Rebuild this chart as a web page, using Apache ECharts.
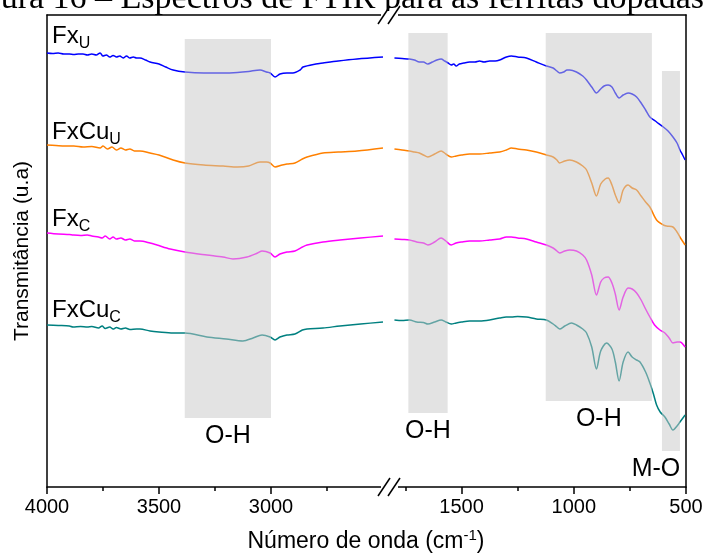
<!DOCTYPE html>
<html><head><meta charset="utf-8">
<script src="https://cdn.jsdelivr.net/npm/echarts@6/dist/echarts.min.js"></script>
<style>html,body{margin:0;padding:0;background:#fff}#c{width:705px;height:554px}</style>
</head><body><div id="c"></div>
<script>
// ---- data (wavenumber cm-1, transmittance a.u.) ----
const seriesNames = ['FxU', 'FxCuU', 'FxC', 'FxCuC'];
const seriesColors = ['#0000FF', '#FF8000', '#FF00FF', '#008080'];

const fxU_high = [[4000,434],[3975,433.5],[3950,434],[3925,433],[3900,433],[3880,432.5],[3860,433],[3839,433],[3820,432],[3800,433],[3780,432],[3763,434],[3750,431],[3735,432],[3720,430],[3705,431.5],[3690,430],[3675,431],[3660,429],[3645,431],[3630,429],[3615,430],[3600,429],[3585,429],[3560,427],[3540,425],[3500,423],[3470,420],[3437,417],[3384,415],[3300,414],[3214,414],[3150,414.5],[3100,415.5],[3049,417],[3020,415],[3004,414],[2982,410],[2960,413],[2929,414],[2902,414],[2870,417],[2857,420],[2800,423],[2768,424],[2700,426],[2616,428],[2500,430]];
const fxU_low = [[1799,429],[1765,428.5],[1732,428],[1710,427],[1688,425],[1670,425],[1650,423],[1630,425],[1610,427],[1591,428],[1575,426],[1560,424],[1546,422],[1535,423],[1524,421],[1510,423],[1490,424],[1464,425],[1440,425],[1420,426],[1400,425],[1375,426],[1350,426],[1330,427],[1300,430],[1278,431],[1250,430],[1211,429],[1167,425],[1122,421],[1092,419],[1075,416],[1063,414],[1045,415],[1030,417],[1018,417],[988,415],[960,411],[943,407],[920,400],[899,394],[880,398],[865,401],[847,402],[830,400],[815,394],[798,389],[780,392],[758,394],[740,393],[720,390],[700,384],[680,377],[661,370],[631,365],[601,360],[580,356],[558,350],[540,344],[527,337],[515,332],[504,327]];

const fxCuU_high = [[4000,342],[3960,341.5],[3920,341],[3880,341],[3839,340],[3800,340.5],[3763,339],[3750,341],[3730,338],[3710,340],[3690,337],[3670,339],[3650,337],[3630,338],[3610,336],[3585,336],[3540,334],[3500,332],[3437,327],[3384,324],[3300,322],[3214,321],[3150,320],[3100,321],[3049,325],[3020,325],[3004,324],[2982,320],[2950,322],[2929,323],[2893,324],[2860,328],[2839,330],[2768,334],[2700,335],[2616,336],[2500,339]];
const fxCuU_low = [[1799,338],[1765,337],[1732,336],[1710,335],[1688,334],[1670,332],[1650,330],[1620,333],[1591,336],[1570,333],[1546,330],[1524,331],[1500,332],[1464,333],[1420,333],[1375,334],[1330,335],[1300,337],[1278,339],[1250,338],[1211,337],[1167,335],[1122,332],[1092,330],[1075,327],[1063,324],[1040,326],[1018,327],[988,325],[960,321],[943,317],[920,304],[899,291],[880,303],[860,308],[847,309],[830,302],[815,292],[798,284],[780,297],[758,302],[740,299],[720,297],[700,291],[680,285],[661,280],[631,267],[601,262],[586,261],[558,260],[540,255],[527,250],[504,242]];

const fxC_high = [[4000,254],[3950,253],[3900,252.5],[3884,252],[3850,251.5],[3820,252],[3800,251],[3770,250],[3754,249],[3740,251],[3720,248],[3705,250],[3690,248],[3670,249],[3650,247],[3630,248],[3610,246],[3585,246],[3540,244],[3509,242],[3450,238],[3384,235],[3286,232],[3214,230],[3170,228],[3107,230],[3060,234],[3040,236],[3004,234],[2982,230],[2960,233],[2929,235],[2893,236],[2860,240],[2839,242],[2768,245],[2692,247],[2600,249],[2500,251]];
const fxC_low = [[1799,248],[1765,247.5],[1732,247],[1700,245],[1670,244],[1650,242],[1620,245],[1591,249],[1570,246],[1546,242],[1524,244],[1500,245],[1464,246],[1420,246],[1375,247],[1330,248],[1300,250],[1278,250],[1250,249],[1211,248],[1167,245],[1122,242],[1092,239],[1075,236],[1063,234],[1040,236],[1018,237],[988,236],[960,232],[943,227],[920,212],[899,192],[880,205],[865,209],[847,210],[830,204],[815,193],[798,177],[780,190],[758,199],[740,198],[720,194],[700,187],[680,178],[661,170],[640,162],[616,157],[594,154],[575,149],[558,144],[540,145],[527,145],[504,140]];

const fxCuC_high = [[4000,162],[3950,161.5],[3900,161],[3884,160],[3850,160.5],[3820,160],[3800,160.5],[3770,159],[3754,161],[3740,158.5],[3720,160],[3705,158],[3690,159.5],[3670,158],[3650,159],[3630,157.5],[3600,158],[3585,158],[3540,156],[3500,155],[3437,154],[3384,154],[3286,150],[3200,148],[3125,146],[3080,149],[3040,152],[3004,150],[2982,147],[2960,150],[2929,152],[2893,153],[2860,157],[2839,158],[2768,159],[2692,161],[2600,163],[2500,165]];
const fxCuC_low = [[1799,167],[1765,166.5],[1732,167],[1700,165],[1670,164.5],[1650,163],[1620,165],[1591,167],[1570,165],[1546,163],[1524,164],[1500,165],[1464,166],[1420,166],[1375,167],[1330,169],[1301,170],[1278,170],[1250,170.5],[1211,170],[1167,168],[1122,167],[1092,163],[1075,160],[1063,158],[1040,161],[1010,164],[988,162],[960,158],[943,154],[920,140],[899,118],[880,136],[854,144],[830,138],[815,125],[798,106],[780,125],[758,135],[740,130],[720,127],[705,125],[680,115],[661,104],[645,93],[631,82],[615,75],[594,70],[575,63],[558,57],[540,61],[527,65],[504,72]];

// shaded absorption regions: [from, to, yLow, yHigh, label]
const bandsHigh = [[3385, 3000, 69, 448, 'O-H']];
const bandsLow = [[1737, 1562, 74, 454, 'O-H'], [1125, 652, 86, 454, 'O-H'], [607, 527, 36, 416, 'M-O']];

const ticksHigh = [4000, 3500, 3000];
const ticksLow = [1500, 1000, 500];
const rangeHigh = [2500, 4000];
const rangeLow = [500, 1850];
const yRange = [0, 472];

// ---- chart ----
const F = '"Liberation Sans", Arial, sans-serif';
const highData = [fxU_high, fxCuU_high, fxC_high, fxCuC_high];
const lowData = [fxU_low, fxCuU_low, fxC_low, fxCuC_low];
const axLine = {show: true, onZero: false, lineStyle: {color: '#000', width: 1.5}};

function xAx(grid, range, ticks, pos) {
  const bottom = pos === 'bottom';
  return {
    gridIndex: grid, type: 'value', min: range[0], max: range[1], interval: 500, inverse: true, position: pos,
    axisLine: axLine,
    axisTick: {show: bottom, length: 7, inside: false, lineStyle: {color: '#000', width: 1.5}},
    minorTick: {show: bottom, splitNumber: 2, length: 4, lineStyle: {color: '#000', width: 1.5}},
    splitLine: {show: false}, minorSplitLine: {show: false},
    axisLabel: {show: bottom, fontFamily: F, fontSize: 20, color: '#000', margin: 10,
      formatter: v => ticks.includes(v) ? String(v) : ''}
  };
}
function yAx(grid, pos, name) {
  return {
    gridIndex: grid, type: 'value', min: yRange[0], max: yRange[1], position: pos,
    axisLine: axLine, axisTick: {show: false}, axisLabel: {show: false}, splitLine: {show: false},
    name: name, nameLocation: 'middle', nameGap: 14,
    nameTextStyle: {fontFamily: F, fontSize: 21, color: '#000'}
  };
}
function bandArea(bands) {
  return {
    silent: true, z: 10,
    itemStyle: {color: 'rgba(200,200,200,0.5)', borderWidth: 0},
    label: {show: true, position: 'bottom', distance: 6, color: '#000', fontFamily: F, fontSize: 25, formatter: '{b}'},
    data: bands.map(b => [
      {xAxis: b[0], yAxis: b[3], name: b[4], label: b[4] === 'M-O' ? {offset: [-15, 0]} : {}},
      {xAxis: b[1], yAxis: b[2]}
    ])
  };
}

const series = [];
seriesNames.forEach((n, i) => {
  [[highData[i], 0], [lowData[i], 1]].forEach(([d, g]) => {
    series.push({
      name: n, type: 'line', xAxisIndex: g, yAxisIndex: g, data: d,
      showSymbol: false, symbol: 'none', smooth: 0.3, z: 2,
      lineStyle: {color: seriesColors[i], width: 1.5}
    });
  });
});
series.push({type: 'line', xAxisIndex: 0, yAxisIndex: 0, data: [], markArea: bandArea(bandsHigh)});
series.push({type: 'line', xAxisIndex: 1, yAxisIndex: 1, data: [], markArea: bandArea(bandsLow)});

const labelRich = {
  a: {fontFamily: F, fontSize: 24, color: '#000', lineHeight: 32},
  s: {fontFamily: F, fontSize: 16, color: '#000', lineHeight: 16, verticalAlign: 'bottom'}
};
const seriesLabels = [['Fx', 'U', 20], ['FxCu', 'U', 116], ['Fx', 'C', 203], ['FxCu', 'C', 294]];

function breakMark(y) {
  return {
    type: 'group', z: 100, children: [
      {type: 'rect', shape: {x: 381, y: y - 4, width: 17, height: y > 100 ? 13 : 8}, style: {fill: '#fff'}, z: 100},
      {type: 'line', shape: {x1: 378, y1: y + 9, x2: 390, y2: y - 9}, style: {stroke: '#000', lineWidth: 1.5}, z: 101},
      {type: 'line', shape: {x1: 388, y1: y + 9, x2: 400, y2: y - 9}, style: {stroke: '#000', lineWidth: 1.5}, z: 101}
    ]
  };
}

const graphic = [
  {type: 'text', x: 704, y: -1, z: 100, style: {text: 'Figura 16 – Espectros de FTIR para as ferritas dopadas',
    fontFamily: '"Liberation Serif", "Times New Roman", serif', fontSize: 34, fill: '#000', align: 'right', verticalAlign: 'middle'}},
  ...seriesLabels.map(l => ({type: 'text', x: 52, y: l[2], z: 100,
    style: {text: '{a|' + l[0] + '}{s|' + l[1] + '}', rich: labelRich, align: 'left', verticalAlign: 'top'}})),
  {type: 'text', x: 366, y: 542, z: 100, style: {text: '{a|Número de onda (cm}{s|-1}{a|)}', align: 'center', verticalAlign: 'middle',
    rich: {a: {fontFamily: F, fontSize: 23, color: '#000', lineHeight: 28}, s: {fontFamily: F, fontSize: 15, color: '#000', lineHeight: 15, verticalAlign: 'top'}}}},
  breakMark(15), breakMark(487)
];

const chart = echarts.init(document.getElementById('c'), null, {renderer: 'canvas'});
chart.setOption({
  animation: false,
  backgroundColor: '#fff',
  grid: [
    {left: 47, top: 15, width: 336, height: 472, containLabel: false, outerBoundsMode: 'none'},
    {left: 383, top: 15, width: 303, height: 472, containLabel: false, outerBoundsMode: 'none'}
  ],
  xAxis: [xAx(0, rangeHigh, ticksHigh, 'bottom'), xAx(1, rangeLow, ticksLow, 'bottom'),
          xAx(0, rangeHigh, ticksHigh, 'top'), xAx(1, rangeLow, ticksLow, 'top')],
  yAxis: [yAx(0, 'left', 'Transmitância (u.a)'), yAx(1, 'right', '')],
  series: series,
  graphic: graphic
});
</script></body></html>
